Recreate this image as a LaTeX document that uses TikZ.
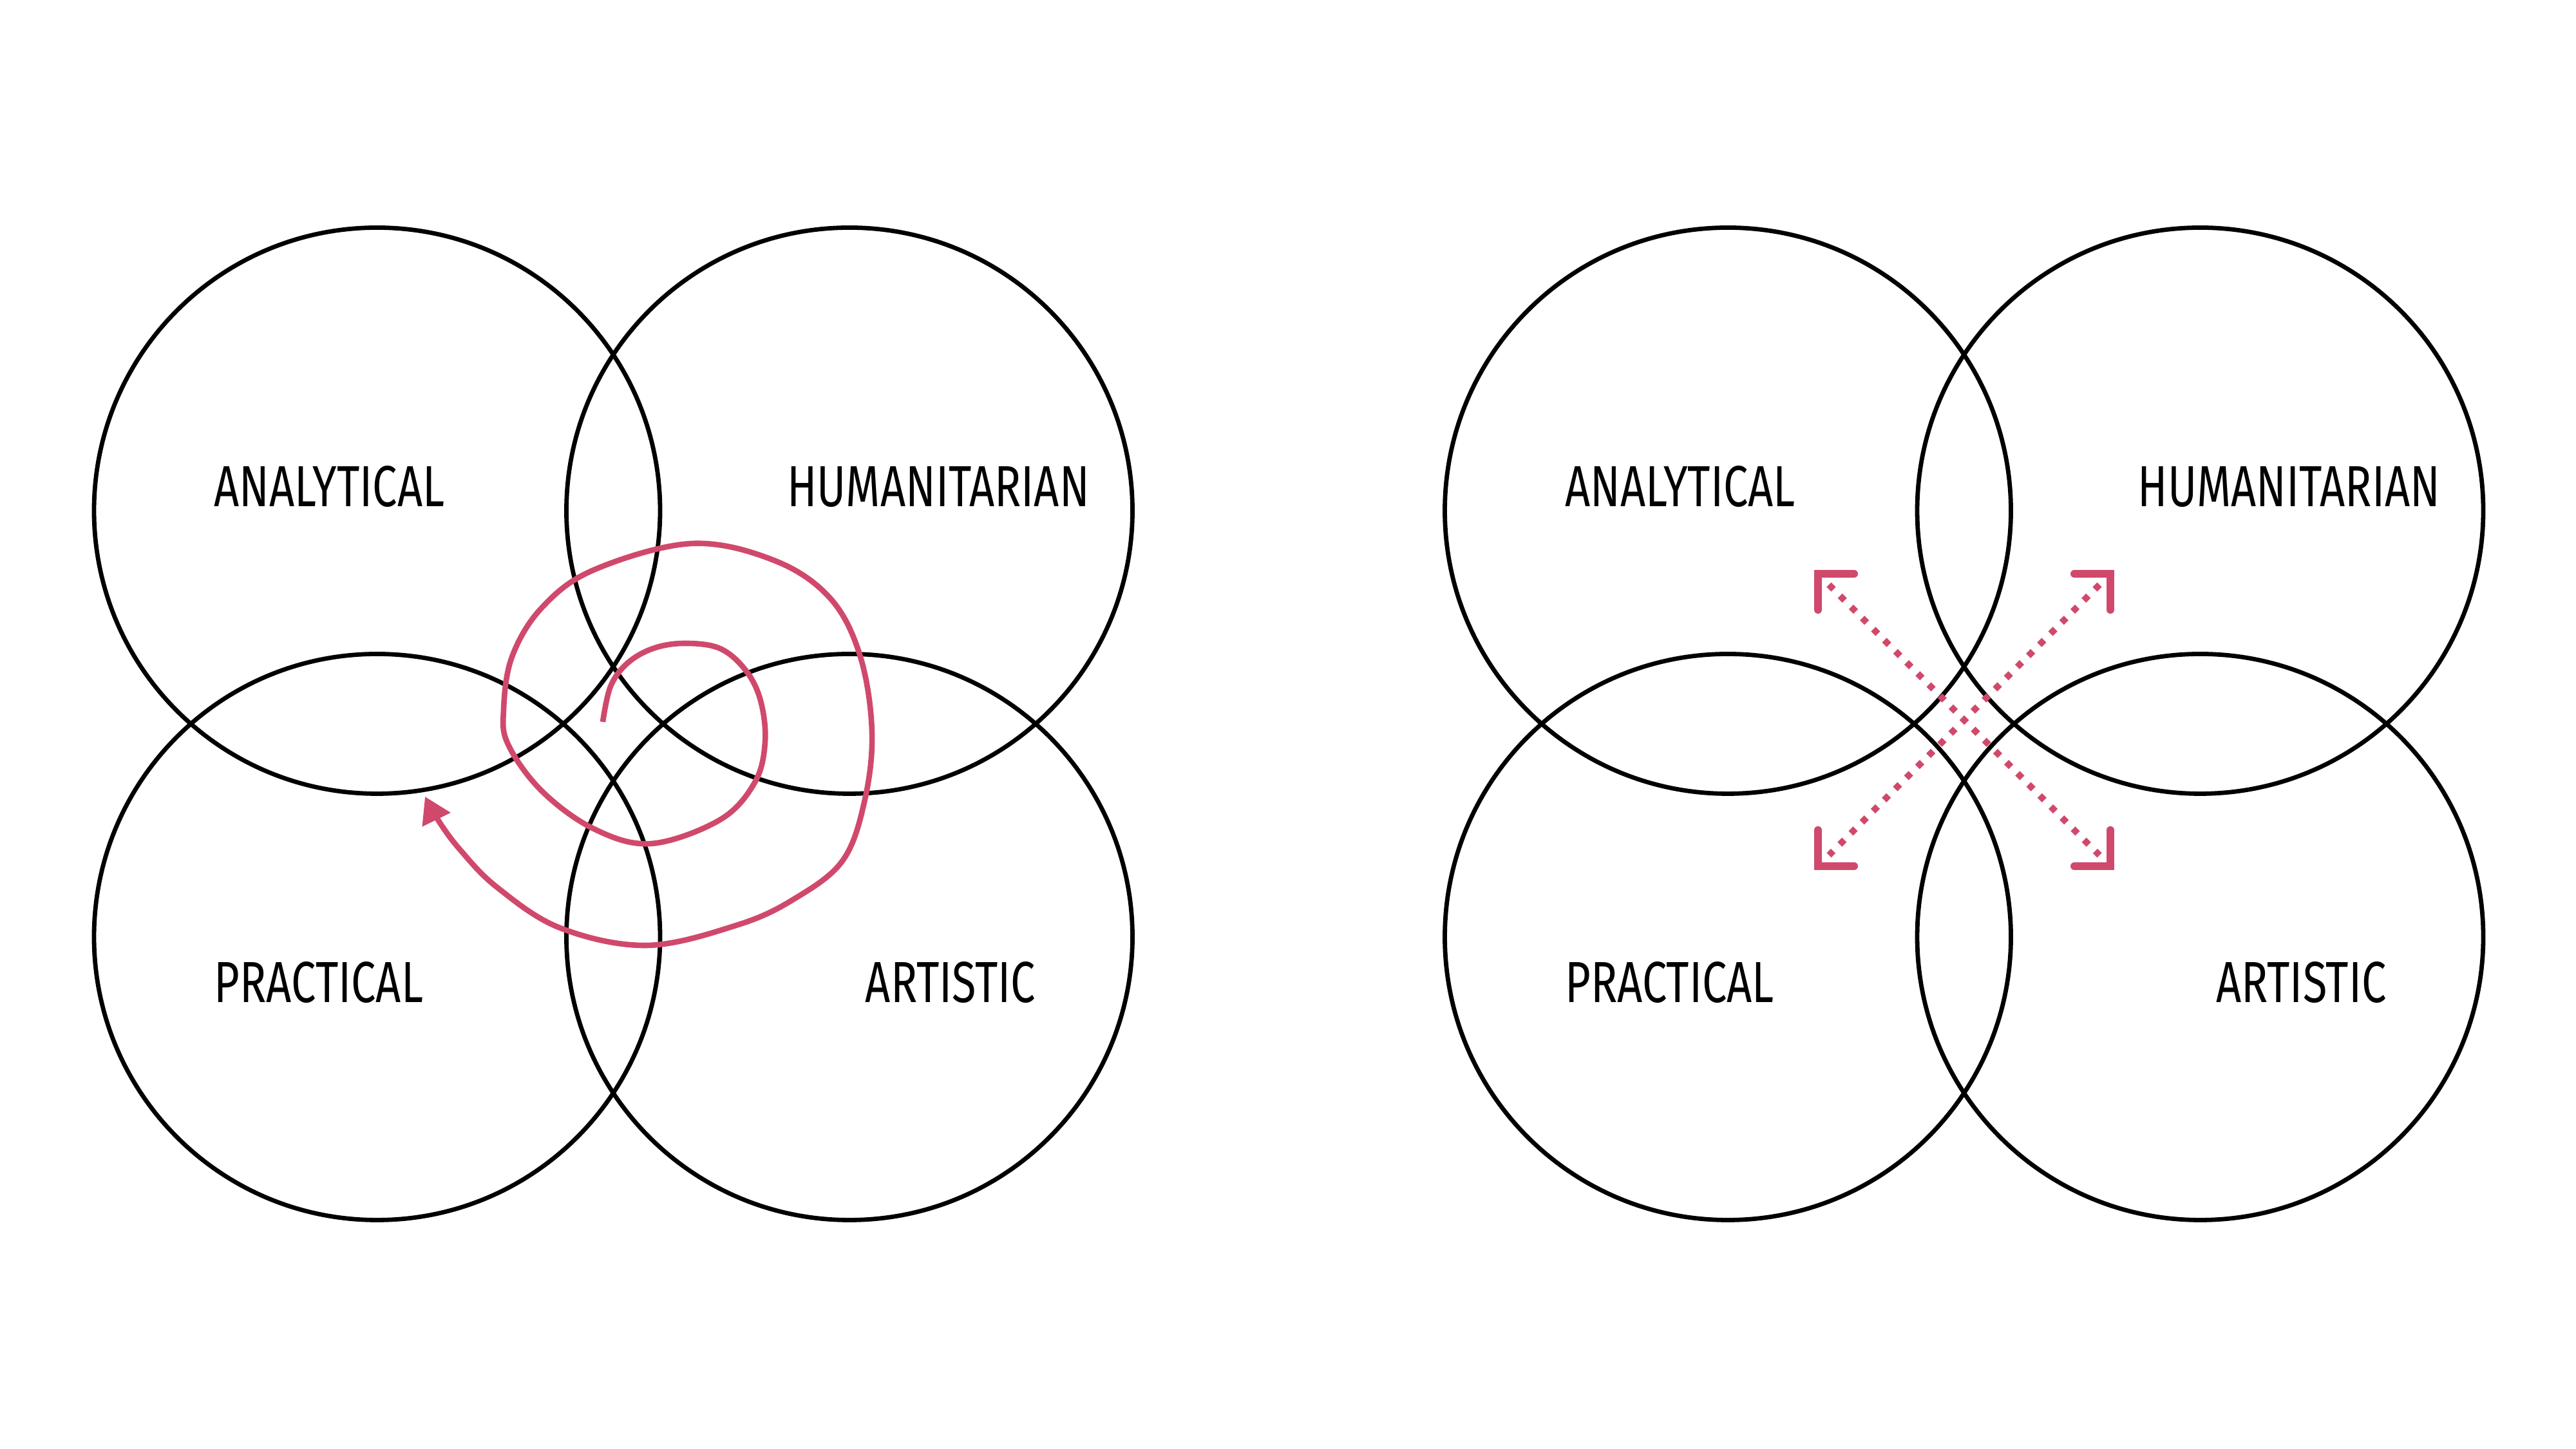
\documentclass[tikz,border=0pt]{standalone}
\usepackage{fontspec}
\setmainfont{Fira Sans}[FakeStretch=0.76]
\usetikzlibrary{arrows.meta}
\definecolor{swirl}{RGB}{208,73,108}

\begin{document}
\begin{tikzpicture}[
  ring/.style={circle,draw,line width=0.068cm,minimum size=8.79cm,inner sep=0pt},
  word/.style={inner sep=0pt,font=\fontsize{25.6}{30}\selectfont},
  swirlline/.style={draw=swirl,line width=0.086cm},
  dots/.style={draw=swirl,line width=0.1cm,dash pattern=on 0.1cm off 0.1436cm},
  corner/.style={draw=swirl,line width=0.12cm,line cap=round}]
\useasboundingbox (0,0) rectangle (40,22.5);
\foreach \g/\dx in {L/0,R/20.975}{
  \node[ring] (an\g) at (5.855+\dx,14.57) {};
  \node[ring] (hu\g) at (13.19+\dx,14.57) {};
  \node[ring] (pr\g) at (5.855+\dx,7.95) {};
  \node[ring] (ar\g) at (13.19+\dx,7.95) {};
  \node[word] (tan\g) at ([shift={(-0.74,0.37)}]an\g) {ANALYTICAL};
  \node[word] (thu\g) at ([shift={(1.38,0.37)}]hu\g) {HUMANITARIAN};
  \node[word] (tpr\g) at ([shift={(-0.905,-0.71)}]pr\g) {PRACTICAL};
  \node[word] (tar\g) at ([shift={(1.57,-0.71)}]ar\g) {ARTISTIC};
}
% spiral
\coordinate (swirl0) at (9.36,11.29);
\coordinate (swirltip) at (6.60,10.13);
\draw[swirlline,-{Triangle[length=0.4cm,width=0.47cm]}] plot[smooth,tension=0.6] coordinates {
  (swirl0) (9.48,11.84) (9.74,12.20) (10.14,12.43) (10.63,12.51) (11.18,12.43)
  (11.58,12.09) (11.81,11.62) (11.88,10.98) (11.72,10.35) (11.18,9.77) (10.11,9.40)
  (9.22,9.63) (8.41,10.22) (7.89,10.94) (7.82,11.48) (7.95,12.30) (8.41,13.06)
  (9.22,13.65) (10.74,14.06) (12.04,13.79) (12.90,13.20) (13.36,12.30) (13.54,11.12)
  (13.42,10.04) (13.08,9.13) (12.33,8.54) (11.46,8.14) (10.05,7.82) (8.70,8.09)
  (7.72,8.72) (7.14,9.31) (6.80,9.77) (swirltip)};
% cross
\coordinate (mid) at (30.50,11.32);
\coordinate (nw) at ([shift={(-2.1,2.1)}]mid);
\coordinate (ne) at ([shift={(2.1,2.1)}]mid);
\coordinate (sw) at ([shift={(-2.1,-2.1)}]mid);
\coordinate (se) at ([shift={(2.1,-2.1)}]mid);
\draw[dots] (nw) -- (se);
\draw[dots] (ne) -- (sw);
\coordinate (cnw) at ([shift={(-2.27,2.27)}]mid);
\coordinate (cne) at ([shift={(2.27,2.27)}]mid);
\coordinate (csw) at ([shift={(-2.27,-2.27)}]mid);
\coordinate (cse) at ([shift={(2.27,-2.27)}]mid);
\draw[corner] ([yshift=-0.56cm]cnw) -- (cnw) -- ([xshift=0.56cm]cnw);
\draw[corner] ([yshift=-0.56cm]cne) -- (cne) -- ([xshift=-0.56cm]cne);
\draw[corner] ([yshift=0.56cm]csw) -- (csw) -- ([xshift=0.56cm]csw);
\draw[corner] ([yshift=0.56cm]cse) -- (cse) -- ([xshift=-0.56cm]cse);
\end{tikzpicture}
\end{document}
